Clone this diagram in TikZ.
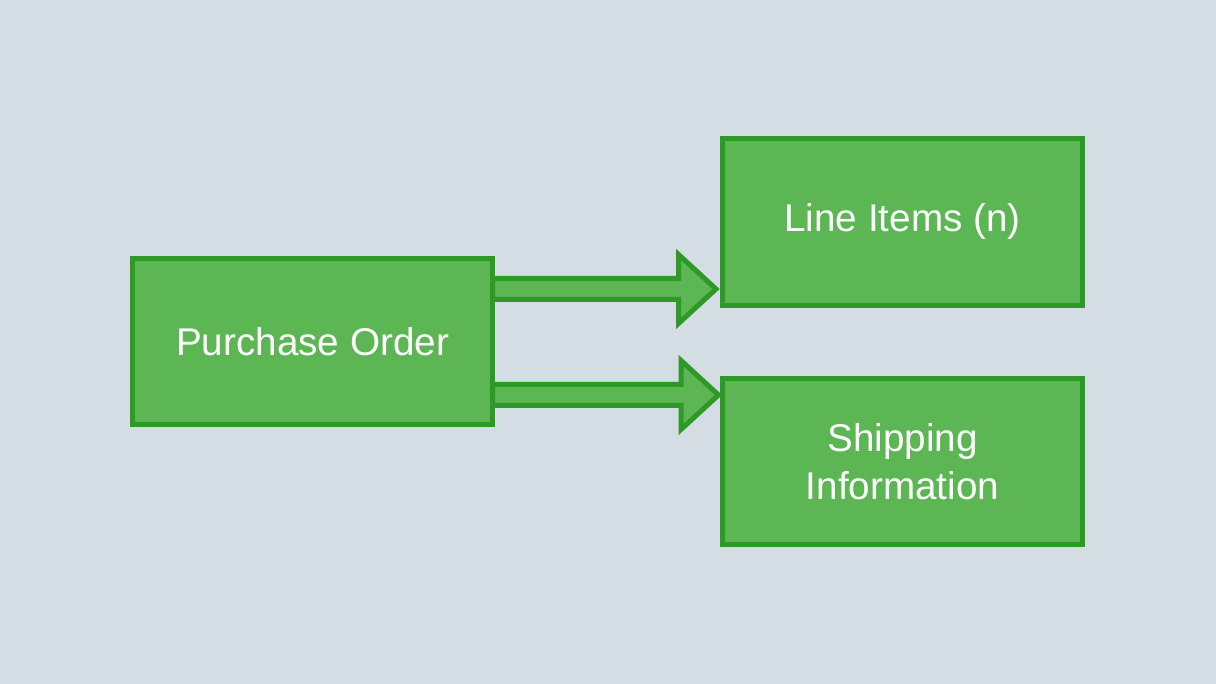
\documentclass[tikz,border=0pt]{standalone}
\usepackage{fontspec}
\setmainfont{Liberation Sans}
\usetikzlibrary{calc,backgrounds}
\definecolor{bggray}{RGB}{212,220,228}
\definecolor{boxfill}{RGB}{92,182,84}
\definecolor{boxline}{RGB}{46,154,38}
\tikzset{
  block/.style={
    shape = rectangle,
    draw = boxline,
    fill = boxfill,
    line width = 0.1cm,
    minimum width = 7.2cm,
    minimum height = 3.32cm,
    text = white,
    align = center,
    font = \fontsize{22}{27.3}\selectfont
  },
  fat/.style={
    draw = boxline,
    fill = boxfill,
    line width = 0.1cm
  }
}
\begin{document}
\begin{tikzpicture}
        \useasboundingbox (0,0) rectangle (24.32,13.68);
        \node[block] (po) at (6.25,6.84) {Purchase Order};
        \node[block, minimum height=3.34cm] (li) at (18.05,9.24) {Line Items (n)};
        \node[block] (si) at (18.05,4.45) {Shipping\\Information};
        \begin{pgfonlayer}{background}
        \fill[bggray] (0,0) rectangle (24.32,13.68);
        \draw[fat] let \p1=(po.east), \p2=(li.west) in
            (\x1-0.05cm,\y1+1.27cm) -- (\x2-0.83cm,\y1+1.27cm) -- (\x2-0.83cm,\y1+1.75cm)
            -- (\x2-0.08cm,\y1+1.06cm) -- (\x2-0.83cm,\y1+0.37cm) -- (\x2-0.83cm,\y1+0.85cm)
            -- (\x1-0.05cm,\y1+0.85cm) -- cycle;
        \draw[fat] let \p1=(po.east), \p2=(si.west) in
            (\x1-0.05cm,\y1-0.85cm) -- (\x2-0.78cm,\y1-0.85cm) -- (\x2-0.78cm,\y1-0.37cm)
            -- (\x2-0.03cm,\y1-1.06cm) -- (\x2-0.78cm,\y1-1.75cm) -- (\x2-0.78cm,\y1-1.27cm)
            -- (\x1-0.05cm,\y1-1.27cm) -- cycle;
        \end{pgfonlayer}
\end{tikzpicture}
\end{document}
